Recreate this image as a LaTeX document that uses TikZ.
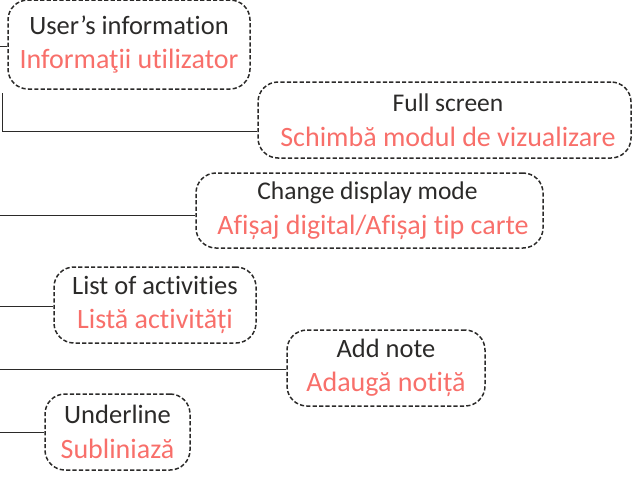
\documentclass[tikz,border=0pt]{standalone}
\usepackage{fontspec}
\setmainfont[Ligatures=NoCommon]{Carlito}
\definecolor{ink}{HTML}{2B2A29}
\definecolor{salmon}{HTML}{F86F6A}
\tikzset{
  x=1pt,y=-1pt,
  callout/.style={draw=ink,line width=1.5pt,dash pattern=on 4.2pt off 2.2pt,rounded corners=20pt,inner sep=0pt,anchor=center,align=center,font=\fontsize{26.5}{34.5}\selectfont,text=ink},
  wire/.style={draw=ink,line width=1pt},
}
\newcommand{\ro}[1]{\textcolor{salmon}{\fontsize{28}{34.5}\selectfont #1}}
\newcommand{\ensmall}[1]{{\fontsize{25.5}{34.5}\selectfont #1}}
\begin{document}
\begin{tikzpicture}
\useasboundingbox (0,0) rectangle (636,482);
\node[callout,minimum width=242pt,minimum height=89pt] (user) at (129,44.5) {User’s information\\\ro{Informaţii utilizator}};
\node[callout,minimum width=373pt,minimum height=76pt] (full) at (444.5,120) {\hspace*{7pt}\ensmall{Full screen}\\\hspace*{7pt}\ro{Schimbă modul de vizualizare}};
\node[callout,minimum width=347pt,minimum height=75pt] (mode) at (369.5,210.5) {\ensmall{Change display mode}\hspace*{4pt}\\\hspace*{7pt}\ro{Afișaj digital/Afișaj tip carte}};
\node[callout,minimum width=202pt,minimum height=76pt] (list) at (155,305) {List of activities\\\ro{Listă activități}};
\node[callout,minimum width=198pt,minimum height=76pt] (note) at (386,368) {Add note\\\ro{Adaugă notiță}};
\node[callout,minimum width=145pt,minimum height=76pt] (under) at (117.5,432) {Underline\\\ro{Subliniază}};
\coordinate (a0) at (0,46);
\coordinate (b0) at (2,93);
\coordinate (b1) at (2,131);
\coordinate (c0) at (0,215);
\coordinate (d0) at (0,306);
\coordinate (e0) at (0,369);
\coordinate (f0) at (0,432);
\draw[wire] (a0) -- (a0 -| user.west);
\draw[wire] (b0) -- (b1) -- (b1 -| full.west);
\draw[wire] (c0) -- (c0 -| mode.west);
\draw[wire] (d0) -- (d0 -| list.west);
\draw[wire] (e0) -- (e0 -| note.west);
\draw[wire] (f0) -- (f0 -| under.west);
\end{tikzpicture}
\end{document}
